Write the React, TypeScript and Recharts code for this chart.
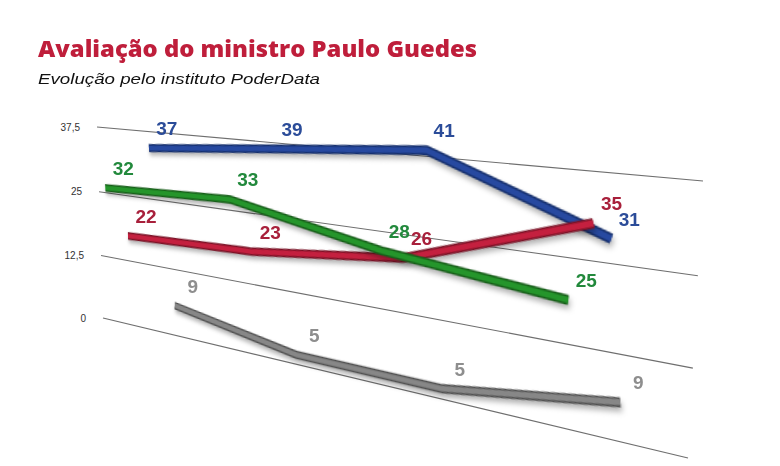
import React from "react";
import { LineChart, Line, XAxis, YAxis, ReferenceLine, LabelList } from "recharts";

if (typeof document !== "undefined") document.body.style.margin = "0";

// ---------- data ----------
const categories = ["Pesquisa 1", "Pesquisa 2", "Pesquisa 3", "Pesquisa 4"];
const serieAzul = [37, 39, 41, 31];
const serieVerde = [32, 33, 28, 25];
const serieVermelha = [22, 23, 26, 35];
const serieCinza = [9, 5, 5, 9];
const yTicks = [0, 12.5, 25, 37.5];

const rows = categories.map((cat, i) => ({
  cat,
  azul: serieAzul[i],
  verde: serieVerde[i],
  vermelho: serieVermelha[i],
  cinza: serieCinza[i],
}));

// ---------- layout / style ----------
const W = 780;
const H = 466;
const MARGIN = { top: 63, right: 80, bottom: 148, left: 100 };
const FLAT_MARGIN = { ...MARGIN, left: 0 };
const PLOT_LEFT = MARGIN.left;
const PLOT_RIGHT = W - MARGIN.right;
const PLOT_TOP = MARGIN.top;
const PLOT_BOTTOM = H - MARGIN.bottom;
const Y_MAX = 50;
const X_PADDING = { left: 60, right: 84 };
const DEPTH_CX = 388; // centre used for the per-series depth scaling
const yFlat = (v: number) => PLOT_TOP + (1 - v / Y_MAX) * (PLOT_BOTTOM - PLOT_TOP);

// perspective "wall": where the corners of the 37,5 and 0 gridlines land on screen
const WALL_SRC = [
  [PLOT_LEFT, yFlat(37.5)],
  [PLOT_RIGHT, yFlat(37.5)],
  [PLOT_LEFT, yFlat(0)],
  [PLOT_RIGHT, yFlat(0)],
];
const WALL_DST = [
  [97, 127],
  [703, 181],
  [103, 318],
  [688, 458],
];

const solveHomography = (src: number[][], dst: number[][]) => {
  const A: number[][] = [];
  const b: number[] = [];
  for (let i = 0; i < 4; i++) {
    const [u, v] = src[i];
    const [x, y] = dst[i];
    A.push([u, v, 1, 0, 0, 0, -u * x, -v * x]);
    b.push(x);
    A.push([0, 0, 0, u, v, 1, -u * y, -v * y]);
    b.push(y);
  }
  const n = 8;
  for (let c = 0; c < n; c++) {
    let p = c;
    for (let r = c + 1; r < n; r++) if (Math.abs(A[r][c]) > Math.abs(A[p][c])) p = r;
    [A[c], A[p]] = [A[p], A[c]];
    [b[c], b[p]] = [b[p], b[c]];
    for (let r = 0; r < n; r++) {
      if (r === c) continue;
      const f = A[r][c] / A[c][c];
      for (let k = c; k < n; k++) A[r][k] -= f * A[c][k];
      b[r] -= f * b[c];
    }
  }
  return b.map((val, i) => val / A[i][i]);
};

const HM = solveHomography(WALL_SRC, WALL_DST);
const project = (u: number, v: number) => {
  const w = HM[6] * u + HM[7] * v + 1;
  return [(HM[0] * u + HM[1] * v + HM[2]) / w, (HM[3] * u + HM[4] * v + HM[5]) / w];
};
const CSS_MATRIX = `matrix3d(${HM[0]},${HM[3]},0,${HM[6]},${HM[1]},${HM[4]},0,${HM[7]},0,0,1,0,${HM[2]},${HM[5]},0,1)`;

type Serie = {
  key: string;
  color: string;
  dark: string;
  label: string;
  dx: number;
  dy: number;
  sx: number;
};

// drawing order: back to front; dx/dy/sx place each ribbon at its own depth
const SERIES: Serie[] = [
  { key: "cinza", color: "#878787", dark: "#505050", label: "#8e8e8e", dx: 38, dy: 17, sx: 0.98 },
  { key: "azul", color: "#2749a0", dark: "#16306e", label: "#2b4c99", dx: 17, dy: 13, sx: 1.02 },
  { key: "vermelho", color: "#c4203f", dark: "#7a1226", label: "#a8203b", dx: -6, dy: 24, sx: 1.06 },
  { key: "verde", color: "#25952b", dark: "#175e19", label: "#22893c", dx: -30, dy: 31, sx: 1.09 },
];

const depthTransform = (s: Serie) =>
  `${CSS_MATRIX} translate(${s.dx}px, ${s.dy}px) translate(${DEPTH_CX}px, 0px) scale(${s.sx}, 1) translate(${-DEPTH_CX}px, 0px)`;
const depthPoint = (s: Serie, u: number, v: number) =>
  project(DEPTH_CX + s.sx * (u - DEPTH_CX) + s.dx, v + s.dy);

const layerStyle = (transform: string): React.CSSProperties => ({
  position: "absolute",
  left: 0,
  top: 0,
  width: W,
  height: H,
  transformOrigin: "0 0",
  transform,
});

const SANS = "'Liberation Sans', Arial, Helvetica, sans-serif";

// gridline drawn on the perspective wall (projective maps keep lines straight)
const ProjGridLine = (props: any) => {
  const { x1, y1, x2, y2 } = props;
  if ([x1, y1, x2, y2].some((v) => v == null || Number.isNaN(v))) return null;
  const [a, b] = project(x1, y1);
  const [c, d] = project(x2, y2);
  return <line x1={a} y1={b} x2={c} y2={d} stroke="#6f6f6f" strokeWidth={1.1} />;
};

const ProjTick = (props: any) => {
  const { y, payload } = props;
  const [px, py] = project(PLOT_LEFT, y);
  return (
    <text x={px - 17} y={py + 3.5} textAnchor="end" fontSize={10} fill="#333333" fontFamily={SANS}>
      {String(payload.value).replace(".", ",")}
    </text>
  );
};

const makeLabel = (s: Serie) => (props: any) => {
  const { x, y, value } = props;
  if (x == null || y == null) return null;
  const [px, py] = depthPoint(s, x, y);
  return (
    <text
      x={px + 18}
      y={py - 20 + 7}
      textAnchor="middle"
      fill={s.label}
      fontSize={19}
      fontWeight="bold"
      fontFamily={SANS}
    >
      {value}
    </text>
  );
};

const hiddenLines = () =>
  SERIES.map((s) => (
    <Line
      key={`h-${s.key}`}
      dataKey={s.key}
      stroke="none"
      dot={false}
      activeDot={false}
      isAnimationActive={false}
    />
  ));

export default function App() {
  return (
    <div style={{ position: "relative", width: W, height: H, background: "#fff", overflow: "hidden" }}>
      {/* back wall: gridlines and tick labels, projected */}
      <div style={layerStyle("none")}>
        <LineChart width={W} height={H} data={rows} margin={FLAT_MARGIN}>
          <XAxis dataKey="cat" hide padding={X_PADDING} />
          <YAxis
            width={PLOT_LEFT}
            domain={[0, Y_MAX]}
            ticks={yTicks}
            axisLine={false}
            tickLine={false}
            tick={ProjTick}
          />
          {hiddenLines()}
          {yTicks.map((t) => (
            <ReferenceLine key={t} y={t} ifOverflow="extendDomain" shape={ProjGridLine} />
          ))}
        </LineChart>
      </div>

      {/* one layer per series, each at its own depth */}
      {SERIES.map((s) => (
        <div
          key={s.key}
          style={{
            ...layerStyle(depthTransform(s)),
            filter: "drop-shadow(1px 3px 2px rgba(0,0,0,0.3))",
          }}
        >
          <LineChart width={W} height={H} data={rows} margin={MARGIN}>
            <XAxis dataKey="cat" hide padding={X_PADDING} />
            <YAxis hide domain={[0, Y_MAX]} ticks={yTicks} />
            <Line
              dataKey={s.key}
              type="linear"
              stroke={s.dark}
              strokeWidth={7.5}
              strokeLinejoin="round"
              dot={false}
              activeDot={false}
              isAnimationActive={false}
            />
            <Line
              dataKey={s.key}
              type="linear"
              stroke={s.color}
              strokeWidth={4.5}
              strokeLinejoin="round"
              dot={false}
              activeDot={false}
              isAnimationActive={false}
            />
          </LineChart>
        </div>
      ))}

      {/* flat overlay: value labels placed at projected positions */}
      <div style={layerStyle("none")}>
        <LineChart width={W} height={H} data={rows} margin={MARGIN}>
          <XAxis dataKey="cat" hide padding={X_PADDING} />
          <YAxis hide domain={[0, Y_MAX]} ticks={yTicks} />
          {SERIES.map((s) => (
            <Line
              key={s.key}
              dataKey={s.key}
              stroke="none"
              dot={false}
              activeDot={false}
              isAnimationActive={false}
            >
              <LabelList dataKey={s.key} content={makeLabel(s)} />
            </Line>
          ))}
        </LineChart>
      </div>

      {/* titles */}
      <svg width={W} height={100} style={{ position: "absolute", left: 0, top: 0 }}>
        <text
          x={38}
          y={57}
          fill="#bf1e3b"
          fontSize={22.5}
          fontWeight={800}
          fontFamily="'Open Sans', Inter, sans-serif"
          textLength={439}
          lengthAdjust="spacingAndGlyphs"
        >
          Avaliação do ministro Paulo Guedes
        </text>
        <text
          x={38}
          y={84}
          fill="#111"
          fontSize={15.5}
          fontStyle="italic"
          fontFamily={SANS}
          textLength={282}
          lengthAdjust="spacingAndGlyphs"
        >
          Evolução pelo instituto PoderData
        </text>
      </svg>
    </div>
  );
}
